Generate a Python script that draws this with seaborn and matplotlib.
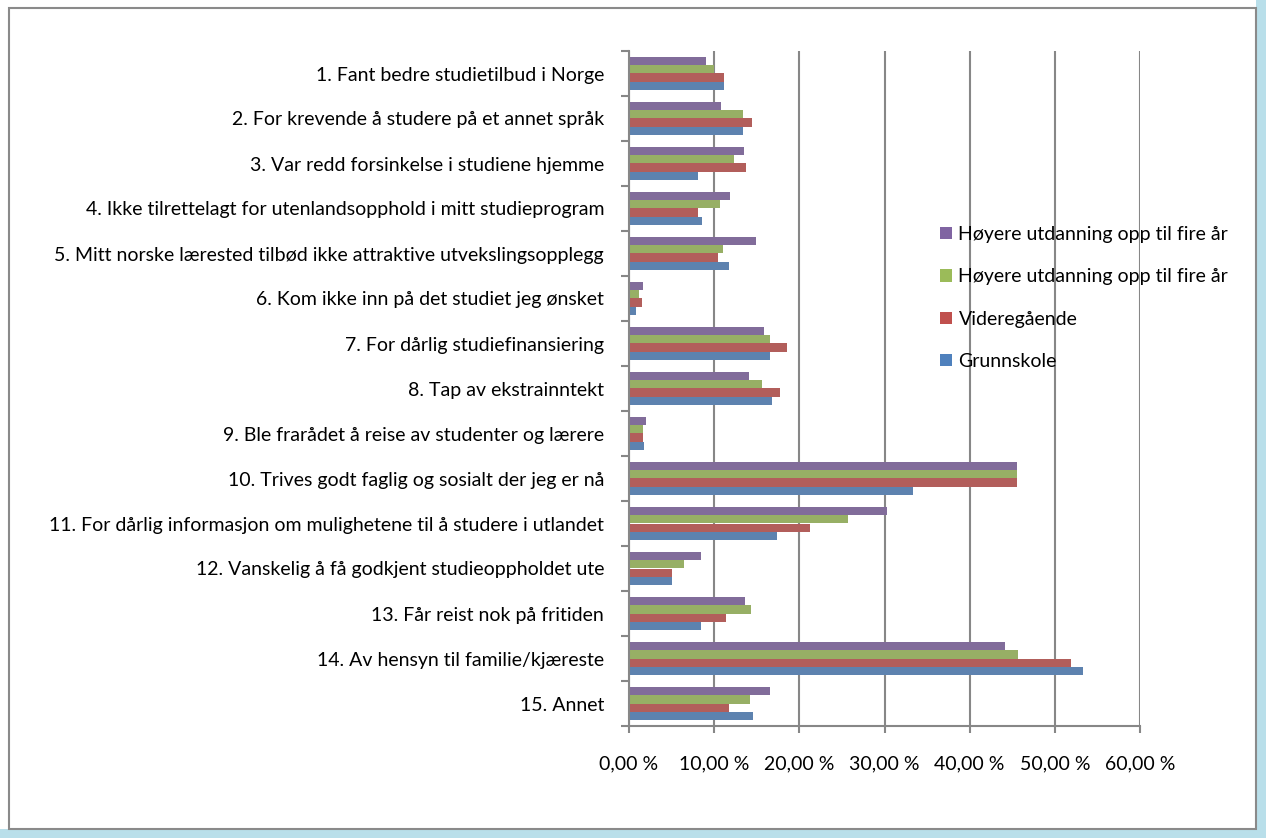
import matplotlib
matplotlib.use("Agg")
import matplotlib.pyplot as plt
import matplotlib.patches as mpatches
from matplotlib.ticker import FixedLocator, FuncFormatter
import pandas as pd
import seaborn as sns

kategorier = [
    "1. Fant bedre studietilbud i Norge",
    "2. For krevende å studere på et annet språk",
    "3. Var redd forsinkelse i studiene hjemme",
    "4. Ikke tilrettelagt for utenlandsopphold i mitt studieprogram",
    "5. Mitt norske lærested tilbød ikke attraktive utvekslingsopplegg",
    "6. Kom ikke inn på det studiet jeg ønsket",
    "7. For dårlig studiefinansiering",
    "8. Tap av ekstrainntekt",
    "9. Ble frarådet å reise av studenter og lærere",
    "10. Trives godt faglig og sosialt der jeg er nå",
    "11. For dårlig informasjon om mulighetene til å studere i utlandet",
    "12. Vanskelig å få godkjent studieoppholdet ute",
    "13. Får reist nok på fritiden",
    "14. Av hensyn til familie/kjæreste",
    "15. Annet",
]

# verdier i prosent, lest av bildet
hoyere_a = [9.0, 10.8, 13.5, 11.9, 14.9, 1.6, 15.8, 14.1, 2.0, 45.6, 30.3, 8.5, 13.6, 44.2, 16.5]
hoyere_b = [10.0, 13.4, 12.3, 10.7, 11.0, 1.2, 16.6, 15.6, 1.6, 45.5, 25.7, 6.5, 14.3, 45.7, 14.2]
videregaende = [11.2, 14.4, 13.7, 8.1, 10.4, 1.5, 18.5, 17.7, 1.7, 45.5, 21.3, 5.1, 11.4, 51.9, 11.7]
grunnskole = [11.2, 13.4, 8.1, 8.6, 11.8, 0.8, 16.5, 16.8, 1.8, 33.4, 17.4, 5.0, 8.4, 53.3, 14.6]

serier = ["hoyere_a", "hoyere_b", "videregaende", "grunnskole"]
etiketter = [
    "Høyere utdanning opp til fire år",
    "Høyere utdanning opp til fire år",
    "Videregående",
    "Grunnskole",
]
farger = ["#8064A2", "#9BBB59", "#C0504D", "#4F81BD"]

rader = []
for navn, verdier in zip(serier, [hoyere_a, hoyere_b, videregaende, grunnskole]):
    for kat, v in zip(kategorier, verdier):
        rader.append({"kategori": kat, "serie": navn, "verdi": v})
df = pd.DataFrame(rader)

sns.set_style("white")
plt.rcParams["font.family"] = ["Lato", "DejaVu Sans"]
plt.rcParams["text.color"] = "black"
plt.rcParams["xtick.color"] = "black"
plt.rcParams["ytick.color"] = "black"

fig = plt.figure(figsize=(12.66, 8.38), dpi=100)
fig.patch.set_facecolor("white")

# ramme rundt diagrammet
W, H = 1266, 838
fig.patches.append(mpatches.Rectangle((1256 / W, 0), 1, 1, transform=fig.transFigure,
                                      facecolor="#b9dfea", edgecolor="none", zorder=-3))
fig.patches.append(mpatches.Rectangle((0, 0), 1, 1 - 829 / H, transform=fig.transFigure,
                                      facecolor="#b9dfea", edgecolor="none", zorder=-3))
fig.patches.append(mpatches.Rectangle((9 / W, 1 - 829 / H), (1256 - 9) / W, (829 - 8) / H,
                                      transform=fig.transFigure, facecolor="white",
                                      edgecolor="#8a8a8a", linewidth=1.5, zorder=-2))

ax = fig.add_axes([629 / W, 1 - 726 / H, (1140 - 629) / W, (726 - 51) / H])
ax.patch.set_alpha(0)

sns.barplot(data=df, y="kategori", x="verdi", hue="serie", hue_order=serier,
            palette=farger, orient="h", width=0.74, errorbar=None,
            linewidth=0, legend=False, ax=ax)

fs = 14
grid = "#878787"
ax.set_xlim(0, 60)
ax.set_ylim(14.5, -0.5)
ax.set_xticks(range(0, 61, 10))
ax.xaxis.set_major_formatter(FuncFormatter(lambda v, p: f"{v:.2f}".replace(".", ",") + " %"))
ax.xaxis.grid(True, color=grid, linewidth=1.5)
ax.set_axisbelow(True)
ax.set_xlabel("")
ax.set_ylabel("")

ax.yaxis.set_minor_locator(FixedLocator([k - 0.5 for k in range(16)]))
ax.tick_params(axis="y", which="major", length=0, pad=18, labelsize=fs)
ax.tick_params(axis="y", which="minor", length=6, width=1.5, color=grid, left=True)
ax.tick_params(axis="x", which="major", length=5, width=1.5, color=grid, pad=16,
               labelsize=fs, bottom=True)

for s in ["top", "right"]:
    ax.spines[s].set_visible(False)
for s in ["left", "bottom"]:
    ax.spines[s].set_color(grid)
    ax.spines[s].set_linewidth(1.5)

handles = [mpatches.Patch(facecolor=c, edgecolor="none") for c in farger]
fig.legend(handles, etiketter, loc="upper left", bbox_to_anchor=(940 / W, 1 - 226 / H),
           frameon=False, fontsize=fs, handlelength=0.6, handleheight=0.6,
           handletextpad=0.35, labelspacing=1.3, borderpad=0, borderaxespad=0)

fig.savefig("out.png", dpi=100)
